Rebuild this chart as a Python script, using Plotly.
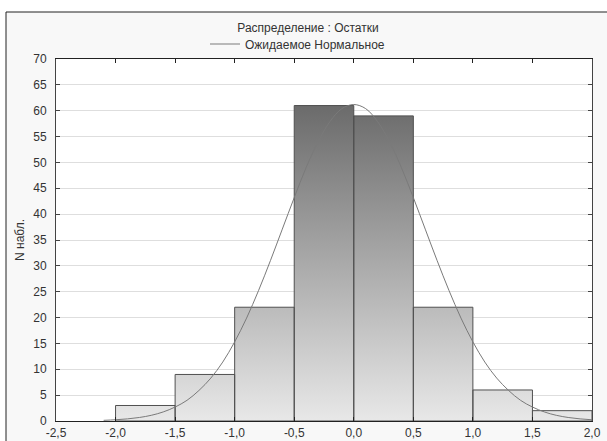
import plotly.graph_objects as go

# ---- data ----
bin_left = [-2.0, -1.5, -1.0, -0.5, 0.0, 0.5, 1.0, 1.5]
bin_width = 0.5
counts = [3, 9, 22, 61, 59, 22, 6, 2]

curve_x = [-2.1, -2.0, -1.9, -1.8, -1.7, -1.6, -1.5, -1.4, -1.3, -1.2, -1.1,
           -1.0, -0.9, -0.8, -0.7, -0.6, -0.5, -0.4, -0.3, -0.2, -0.1, 0.0,
           0.1, 0.2, 0.3, 0.4, 0.5, 0.6, 0.7, 0.8, 0.9, 1.0,
           1.1, 1.2, 1.3, 1.4, 1.5, 1.6, 1.7, 1.8, 1.9, 2.0, 2.1]
curve_y = [0.13, 0.24, 0.41, 0.68, 1.1, 1.75, 2.7, 4.0, 5.9, 8.3, 11.4,
           15.3, 19.9, 25.2, 31.0, 37.1, 43.2, 49.0, 54.0, 57.9, 60.4, 61.2,
           60.4, 57.9, 54.0, 49.0, 43.2, 37.1, 31.0, 25.2, 19.9, 15.3,
           11.4, 8.3, 5.9, 4.0, 2.7, 1.75, 1.1, 0.68, 0.41, 0.24, 0.13]

x_ticks = [-2.5, -2.0, -1.5, -1.0, -0.5, 0.0, 0.5, 1.0, 1.5, 2.0]
x_ticklabels = ["-2,5", "-2,0", "-1,5", "-1,0", "-0,5", "0,0", "0,5", "1,0", "1,5", "2,0"]
y_ticks = list(range(0, 75, 5))

title_text = "Распределение : Остатки"
legend_text = "Ожидаемое Нормальное"
y_title = "N набл."

# ---- build bar polygons from the data ----
px, py = [], []
for l, c in zip(bin_left, counts):
    r = l + bin_width
    px += [l, l, r, r, l, None]
    py += [0, c, c, 0, 0, None]

FONT = "Liberation Sans, Arial, sans-serif"
TXT = "#333333"

fig = go.Figure()
fig.add_trace(go.Scatter(
    x=px, y=py, mode="lines", fill="toself",
    line=dict(color="#505050", width=1),
    fillgradient=dict(type="vertical", start=0, stop=max(counts),
                      colorscale=[[0, "#e8e8e8"], [1, "#6b6b6b"]]),
    showlegend=False, hoverinfo="skip",
))
fig.add_trace(go.Scatter(
    x=curve_x, y=curve_y, mode="lines", line=dict(color="#7a7a7a", width=1, shape="spline"),
    name=legend_text, showlegend=True,
))

W, H = 607, 441
ml, mr, mt, mb = 56, 15, 59, 20
pw, ph = W - ml - mr, H - mt - mb

def pxx(x):
    return (x - ml) / pw

def pyy(y):
    return (H - mb - y) / ph

frame_l, frame_t = 6, 12
shapes = [
    dict(type="rect", xref="paper", yref="paper", x0=pxx(-20), x1=pxx(W + 20),
         y0=pyy(frame_t), y1=pyy(-20), fillcolor="white", line=dict(width=0), layer="below"),
    dict(type="rect", xref="paper", yref="paper", x0=pxx(-20), x1=pxx(frame_l),
         y0=pyy(H + 20), y1=pyy(-20), fillcolor="white", line=dict(width=0), layer="below"),
    dict(type="line", xref="paper", yref="paper", x0=pxx(frame_l), x1=pxx(frame_l),
         y0=pyy(frame_t), y1=pyy(H + 20), line=dict(color="#222222", width=1)),
    dict(type="line", xref="paper", yref="paper", x0=pxx(frame_l), x1=pxx(W + 20),
         y0=pyy(frame_t), y1=pyy(frame_t), line=dict(color="#222222", width=1)),
]

fig.update_layout(
    width=W, height=H,
    margin=dict(l=ml, r=mr, t=mt, b=mb, autoexpand=False),
    paper_bgcolor="#f8f8f8", plot_bgcolor="white",
    separators=", ",
    font=dict(family=FONT, size=12, color=TXT),
    title=dict(text=title_text, x=308 / W, xref="container", xanchor="center",
               y=1 - 28 / H, yref="container", yanchor="middle",
               font=dict(family=FONT, size=12, color=TXT)),
    legend=dict(orientation="h", xref="container", yref="container",
                x=205 / W, xanchor="left", y=1 - 44 / H, yanchor="middle",
                bgcolor="rgba(0,0,0,0)", font=dict(family=FONT, size=12, color=TXT),
                itemwidth=30),
    shapes=shapes,
    xaxis=dict(range=[-2.5, 2.0], tickvals=x_ticks, ticktext=x_ticklabels,
               showgrid=False, zeroline=False, showline=True, linecolor="#222222",
               linewidth=1, mirror="ticks", ticks="inside", ticklen=4, tickcolor="#222222",
               tickfont=dict(family=FONT, size=12, color=TXT), ticklabelstandoff=1),
    yaxis=dict(range=[0, 70], tickvals=y_ticks, showgrid=True, gridcolor="#dedede",
               gridwidth=1, zeroline=False, showline=True, linecolor="#444444",
               linewidth=1, mirror="ticks", ticks="inside", ticklen=4, tickcolor="#444444",
               tickfont=dict(family=FONT, size=12, color=TXT), ticklabelstandoff=6,
               title=dict(text=y_title, standoff=6, font=dict(family=FONT, size=12, color=TXT))),
)

fig.write_html("out.html")
